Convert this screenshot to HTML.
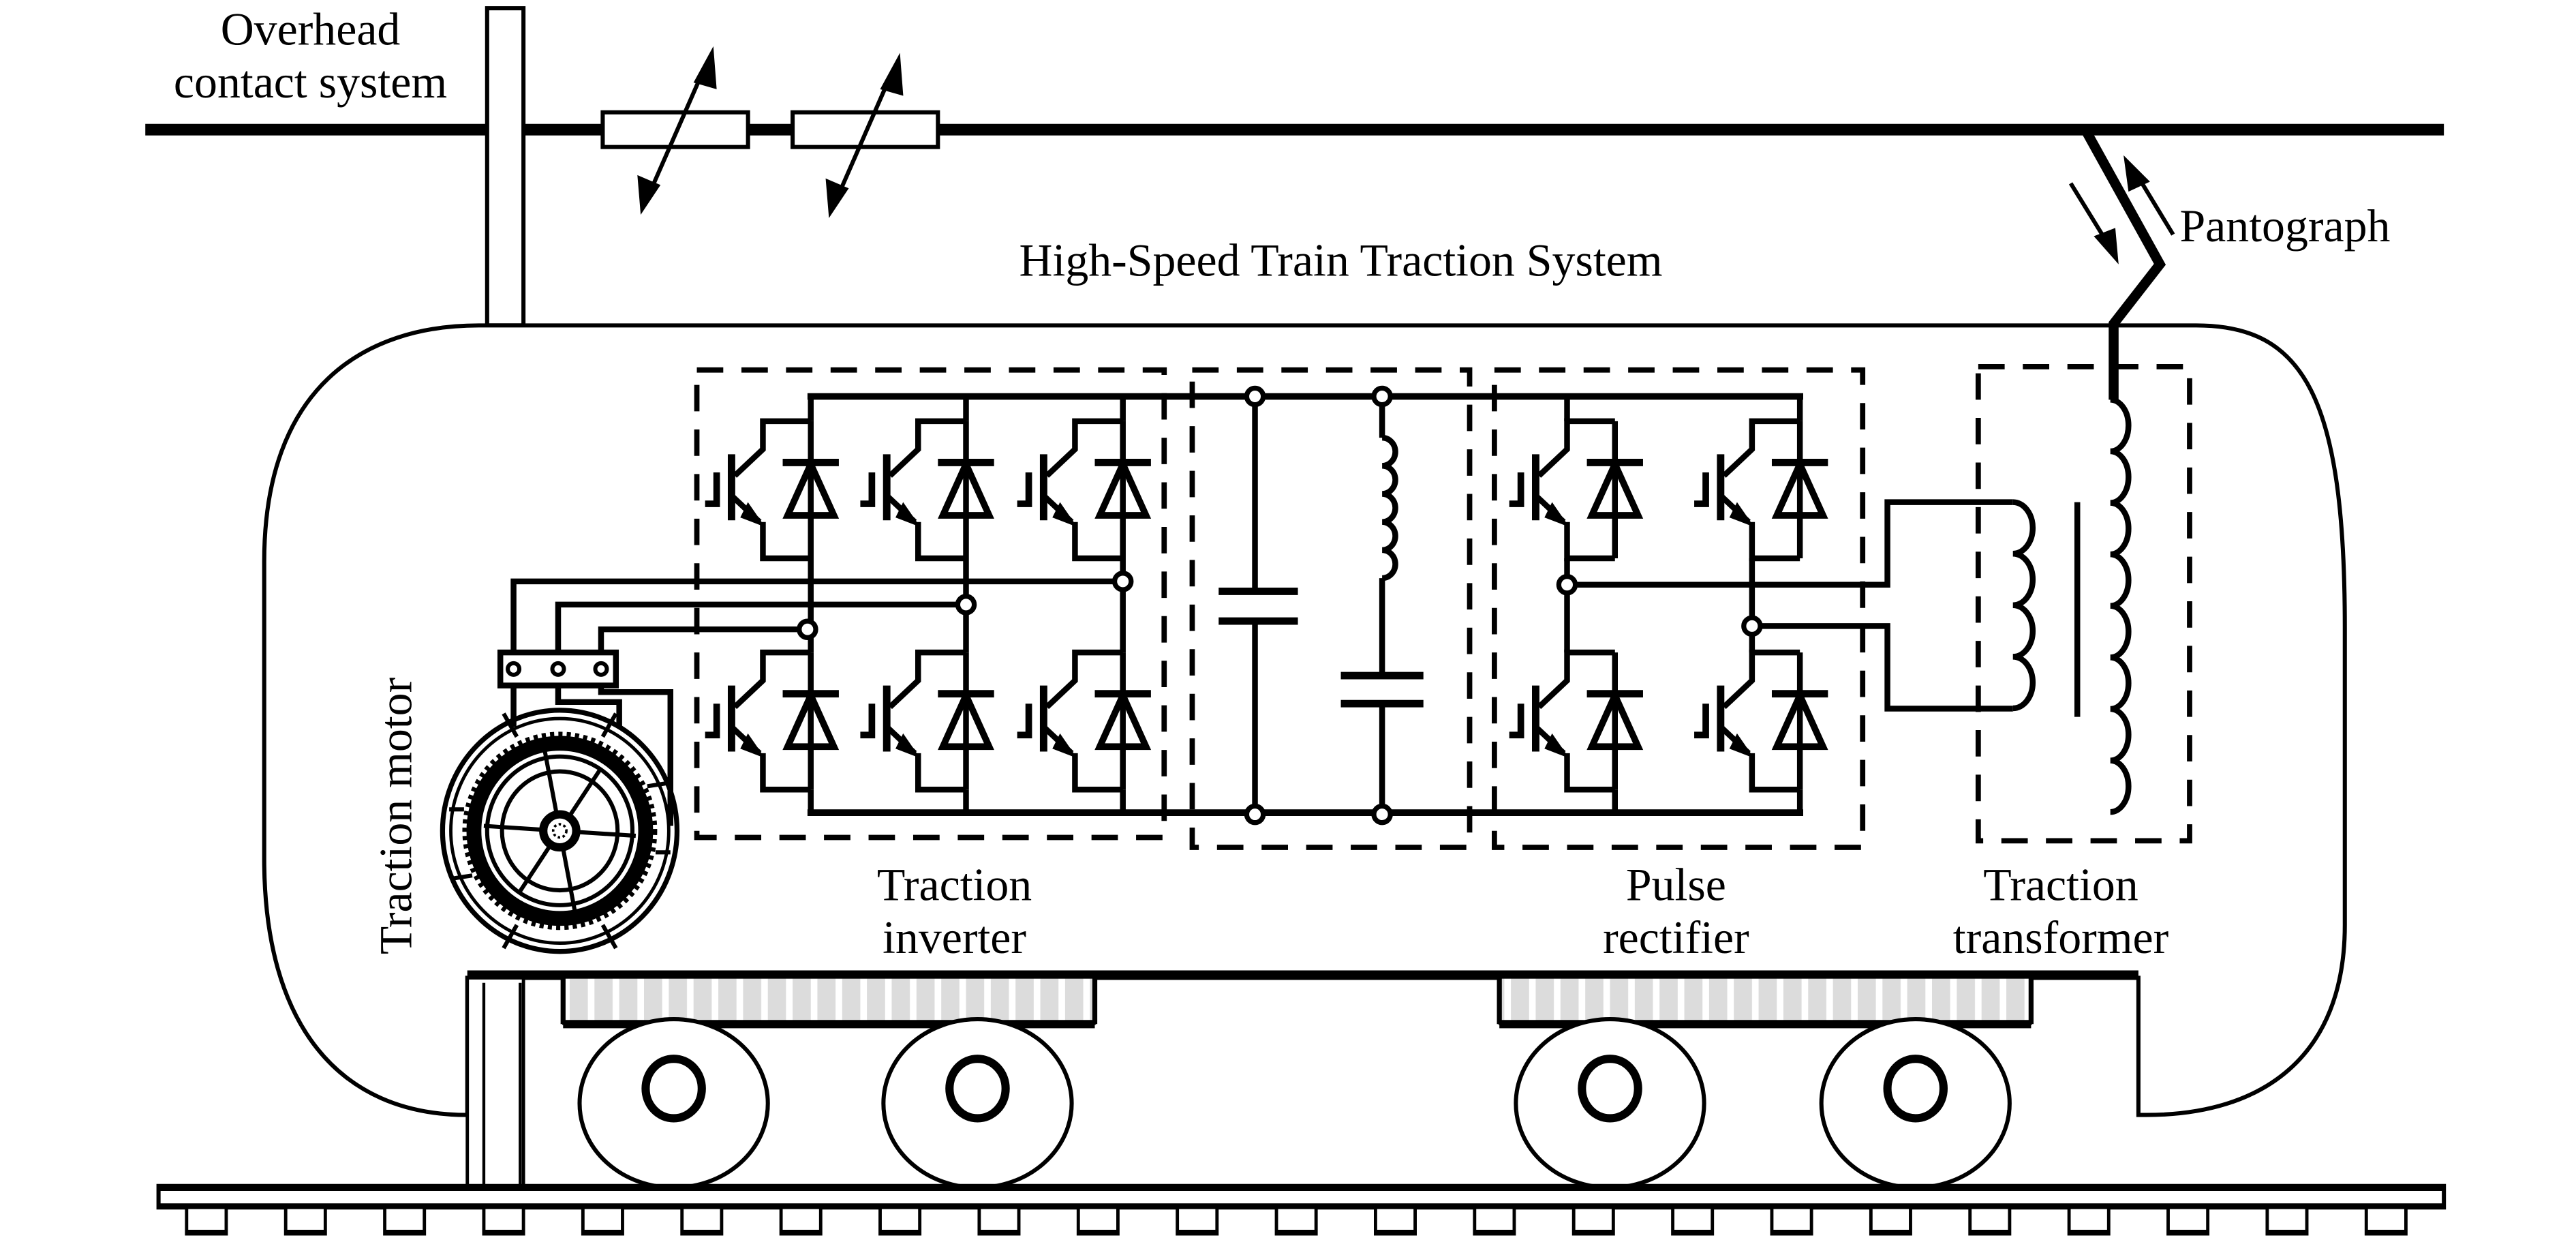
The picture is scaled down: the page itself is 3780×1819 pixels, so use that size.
<!DOCTYPE html>
<html><head><meta charset="utf-8">
<style>
html,body{margin:0;padding:0;background:#fff;}
svg{display:block;}
text{font-family:"Liberation Serif",serif;fill:#000;}
</style></head>
<body>
<svg width="3780" height="1819" viewBox="0 0 1560 750.7" preserveAspectRatio="none" xmlns="http://www.w3.org/2000/svg">
<defs>
<g id="cell" fill="none" stroke="#000" stroke-width="3.5">
  <path d="M0,0 H-29 V17 L-46,33"/>
  <path d="M-48,20 V60" stroke-width="4.5"/>
  <path d="M-57,31 V50 H-64" stroke-width="4"/>
  <path d="M-48,45 L-31,61 M-29,61 V83 H0"/>
  <polygon points="-29,63 -38,50 -42,58" fill="#000" stroke-width="1"/>
  <path d="M-17,25 H17" stroke-width="4.5"/>
  <path d="M0,26 L-14,57 H14 Z" stroke-width="4"/>
  <path d="M0,0 V83"/>
</g>
<pattern id="stripes" width="15" height="10" patternUnits="userSpaceOnUse">
  <rect width="15" height="10" fill="#dcdcdc"/>
  <rect x="11" width="4" height="10" fill="#fff"/>
</pattern>
</defs>

<rect x="88" y="75" width="1392" height="7" fill="#000"/>
<rect x="365" y="68" width="88" height="21" fill="#fff" stroke="#000" stroke-width="2.5"/>
<rect x="480" y="68" width="88" height="21" fill="#fff" stroke="#000" stroke-width="2.5"/>
<g stroke="#000" stroke-width="2.5">
<line x1="392" y1="120" x2="428" y2="38"/>
<line x1="506" y1="122" x2="541" y2="42"/>
</g>
<g fill="#000">
<polygon points="432,28 420,50 434,54"/>
<polygon points="388,130 386,106 400,112"/>
<polygon points="545,32 533,54 547,58"/>
<polygon points="502,132 500,108 514,114"/>
</g>
<rect x="295" y="5" width="22" height="192" fill="#fff" stroke="#000" stroke-width="2.5"/>

<path d="M290,197 L1330,197 C1395,197 1420,240 1420,380 L1420,560 C1420,640 1370,675 1300,675 L1295,675 L1295,592 L283,592 L283,675 C205,675 160,620 160,520 L160,340 C160,235 220,197 290,197 Z" fill="#fff" stroke="#000" stroke-width="2.5"/>
<rect x="283" y="592" width="34" height="128" fill="#fff" stroke="#000" stroke-width="2"/>
<line x1="293" y1="595" x2="293" y2="720" stroke="#000" stroke-width="1.8"/>
<line x1="315" y1="595" x2="315" y2="720" stroke="#000" stroke-width="1.8"/>
<line x1="283" y1="590" x2="1295" y2="590" stroke="#000" stroke-width="5"/>

<rect x="341" y="592" width="322" height="28" fill="url(#stripes)" stroke="#000" stroke-width="1"/>
<line x1="341" y1="620" x2="663" y2="620" stroke="#000" stroke-width="5"/>
<line x1="341" y1="592" x2="341" y2="620" stroke="#000" stroke-width="3"/>
<line x1="663" y1="592" x2="663" y2="620" stroke="#000" stroke-width="3"/>
<rect x="908" y="592" width="322" height="28" fill="url(#stripes)" stroke="#000" stroke-width="1"/>
<line x1="908" y1="620" x2="1230" y2="620" stroke="#000" stroke-width="5"/>
<line x1="908" y1="592" x2="908" y2="620" stroke="#000" stroke-width="3"/>
<line x1="1230" y1="592" x2="1230" y2="620" stroke="#000" stroke-width="3"/>

<g fill="#fff" stroke="#000">
<ellipse cx="408" cy="668" rx="57" ry="51" stroke-width="2.5"/>
<ellipse cx="592" cy="668" rx="57" ry="51" stroke-width="2.5"/>
<ellipse cx="975" cy="668" rx="57" ry="51" stroke-width="2.5"/>
<ellipse cx="1160" cy="668" rx="57" ry="51" stroke-width="2.5"/>
<ellipse cx="408" cy="659" rx="17" ry="18" stroke-width="5"/>
<ellipse cx="592" cy="659" rx="17" ry="18" stroke-width="5"/>
<ellipse cx="975" cy="659" rx="17" ry="18" stroke-width="5"/>
<ellipse cx="1160" cy="659" rx="17" ry="18" stroke-width="5"/>
</g>

<rect x="96" y="718" width="1384" height="13" fill="#fff" stroke="#000" stroke-width="2.5"/>
<line x1="96" y1="719" x2="1480" y2="719" stroke="#000" stroke-width="4"/>
<line x1="96" y1="730" x2="1480" y2="730" stroke="#000" stroke-width="3"/>
<g fill="#fff" stroke="#000" stroke-width="2">
<rect x="113" y="731" width="24" height="16"/><rect x="173" y="731" width="24" height="16"/><rect x="233" y="731" width="24" height="16"/><rect x="293" y="731" width="24" height="16"/><rect x="353" y="731" width="24" height="16"/><rect x="413" y="731" width="24" height="16"/><rect x="473" y="731" width="24" height="16"/><rect x="533" y="731" width="24" height="16"/><rect x="593" y="731" width="24" height="16"/><rect x="653" y="731" width="24" height="16"/><rect x="713" y="731" width="24" height="16"/><rect x="773" y="731" width="24" height="16"/><rect x="833" y="731" width="24" height="16"/><rect x="893" y="731" width="24" height="16"/><rect x="953" y="731" width="24" height="16"/><rect x="1013" y="731" width="24" height="16"/><rect x="1073" y="731" width="24" height="16"/><rect x="1133" y="731" width="24" height="16"/><rect x="1193" y="731" width="24" height="16"/><rect x="1253" y="731" width="24" height="16"/><rect x="1313" y="731" width="24" height="16"/><rect x="1373" y="731" width="24" height="16"/><rect x="1433" y="731" width="24" height="16"/>
</g>
<line x1="113" y1="746" x2="1457" y2="746" stroke="#000" stroke-width="3" stroke-dasharray="24 36"/>

<polyline points="1262,77 1308,160 1280,196 1280,242" fill="none" stroke="#000" stroke-width="6" stroke-linejoin="miter"/>
<line x1="1254" y1="111" x2="1278" y2="150" stroke="#000" stroke-width="2.5"/>
<polygon points="1283,160 1268,143 1281,138" fill="#000"/>
<line x1="1316" y1="142" x2="1293" y2="104" stroke="#000" stroke-width="2.5"/>
<polygon points="1286,94 1302,110 1289,116" fill="#000"/>

<g fill="none" stroke="#000" stroke-width="3.2" stroke-dasharray="16 11">
<rect x="422" y="224" width="283" height="283"/>
<rect x="722" y="224" width="168" height="289"/>
<rect x="905" y="224" width="223" height="289"/>
<rect x="1198" y="222" width="128" height="287"/>
</g>

<g stroke="#000" stroke-width="4" fill="none">
<line x1="489" y1="240" x2="1092" y2="240"/>
<line x1="489" y1="492" x2="1092" y2="492"/>
</g>

<g stroke="#000" stroke-width="3.5">
<line x1="491" y1="240" x2="491" y2="255"/><line x1="585" y1="240" x2="585" y2="255"/><line x1="680" y1="240" x2="680" y2="255"/>
<line x1="491" y1="338" x2="491" y2="395"/><line x1="585" y1="338" x2="585" y2="395"/><line x1="680" y1="338" x2="680" y2="395"/>
<line x1="491" y1="478" x2="491" y2="492"/><line x1="585" y1="478" x2="585" y2="492"/><line x1="680" y1="478" x2="680" y2="492"/>
</g>
<use href="#cell" x="491" y="255"/><use href="#cell" x="585" y="255"/><use href="#cell" x="680" y="255"/>
<use href="#cell" x="491" y="395"/><use href="#cell" x="585" y="395"/><use href="#cell" x="680" y="395"/>

<g stroke="#000" stroke-width="3.5">
<line x1="949" y1="240" x2="949" y2="255"/><line x1="1090" y1="240" x2="1090" y2="255"/>
<line x1="949" y1="338" x2="949" y2="395"/><line x1="1061" y1="338" x2="1061" y2="395"/>
<line x1="978" y1="478" x2="978" y2="492"/><line x1="1090" y1="478" x2="1090" y2="492"/>
</g>
<use href="#cell" x="978" y="255"/><use href="#cell" x="1090" y="255"/>
<use href="#cell" x="978" y="395"/><use href="#cell" x="1090" y="395"/>

<g stroke="#000" stroke-width="3.5" fill="none">
<line x1="760" y1="240" x2="760" y2="358"/>
<line x1="760" y1="376" x2="760" y2="492"/>
<line x1="738" y1="358" x2="786" y2="358" stroke-width="4.5"/>
<line x1="738" y1="376" x2="786" y2="376" stroke-width="4.5"/>
<line x1="837" y1="240" x2="837" y2="265"/>
<path d="M837,265 a8,8.5 0 0 1 0,17 a8,8.5 0 0 1 0,17 a8,8.5 0 0 1 0,17 a8,8.5 0 0 1 0,17 a8,8.5 0 0 1 0,17"/>
<line x1="837" y1="350" x2="837" y2="409"/>
<line x1="812" y1="409" x2="862" y2="409" stroke-width="4.5"/>
<line x1="812" y1="426" x2="862" y2="426" stroke-width="4.5"/>
<line x1="837" y1="426" x2="837" y2="492"/>
</g>

<g stroke="#000" stroke-width="3.5" fill="none">
<path d="M680,352 H311 V395"/>
<path d="M585,366 H338 V395"/>
<path d="M489,381 H364 V395"/>
<rect x="303" y="395" width="70" height="20"/>
<path d="M311,415 V440"/>
<path d="M338,415 V425 H375 V440"/>
<path d="M364,415 V419 H406 V500"/>
</g>
<g fill="#fff" stroke="#000" stroke-width="2.5">
<circle cx="311" cy="405" r="3.5"/><circle cx="338" cy="405" r="3.5"/><circle cx="364" cy="405" r="3.5"/>
</g>

<g fill="none" stroke="#000">
<ellipse cx="339" cy="503" rx="71" ry="73" stroke-width="3"/>
<ellipse cx="339" cy="503" rx="66" ry="68" stroke-width="2"/>
<ellipse cx="339" cy="503" rx="52" ry="53" stroke-width="9"/>
<ellipse cx="339" cy="503" rx="57" ry="58" stroke-width="4" stroke-dasharray="2.5 2.5"/>
<ellipse cx="339" cy="503" rx="44" ry="45" stroke-width="2.5"/>
<ellipse cx="339" cy="503" rx="35" ry="36" stroke-width="2.5"/>
<g stroke-width="2.5">
<line x1="330" y1="455" x2="348" y2="551"/>
<line x1="364" y1="465" x2="314" y2="541"/>
<line x1="293" y1="500" x2="385" y2="506"/>
<line x1="313" y1="446" x2="305" y2="432"/><line x1="365" y1="446" x2="373" y2="432"/>
<line x1="281" y1="490" x2="272" y2="490"/><line x1="397" y1="516" x2="406" y2="516"/>
<line x1="313" y1="560" x2="305" y2="574"/><line x1="365" y1="560" x2="373" y2="574"/>
<line x1="286" y1="530" x2="273" y2="532"/><line x1="392" y1="476" x2="405" y2="474"/>
</g>
<circle cx="339" cy="503" r="10" fill="#fff" stroke-width="5"/>
<circle cx="339" cy="503" r="4" stroke-width="1.5" stroke-dasharray="1.5 1.5"/>
</g>

<g stroke="#000" stroke-width="3.5" fill="none">
<path d="M949,354 H1143 V304 H1219"/>
<path d="M1061,379 H1143 V429 H1219"/>
<path d="M1219,304 a12,15.6 0 0 1 0,31.2 a12,15.6 0 0 1 0,31.2 a12,15.6 0 0 1 0,31.2 a12,15.6 0 0 1 0,31.2"/>
<line x1="1258" y1="304" x2="1258" y2="434"/>
<path d="M1278,242 a11,15.6 0 0 1 0,31.2 a11,15.6 0 0 1 0,31.2 a11,15.6 0 0 1 0,31.2 a11,15.6 0 0 1 0,31.2 a11,15.6 0 0 1 0,31.2 a11,15.6 0 0 1 0,31.2 a11,15.6 0 0 1 0,31.2 a11,15.6 0 0 1 0,31.2"/>
</g>

<g fill="#fff" stroke="#000" stroke-width="3">
<circle cx="680" cy="352" r="5"/><circle cx="585" cy="366" r="5"/><circle cx="489" cy="381" r="5"/>
<circle cx="760" cy="240" r="5"/><circle cx="837" cy="240" r="5"/>
<circle cx="760" cy="493" r="5"/><circle cx="837" cy="493" r="5"/>
<circle cx="949" cy="354" r="5"/><circle cx="1061" cy="379" r="5"/>
</g>

<g font-size="28">
<text x="188" y="27" text-anchor="middle">Overhead</text>
<text x="188" y="59" text-anchor="middle">contact system</text>
<text x="812" y="167" text-anchor="middle">High-Speed Train Traction System</text>
<text x="1320" y="146">Pantograph</text>
<text x="578" y="545" text-anchor="middle">Traction</text>
<text x="578" y="577" text-anchor="middle">inverter</text>
<text x="1015" y="545" text-anchor="middle">Pulse</text>
<text x="1015" y="577" text-anchor="middle">rectifier</text>
<text x="1248" y="545" text-anchor="middle">Traction</text>
<text x="1248" y="577" text-anchor="middle">transformer</text>
<text x="0" y="0" text-anchor="middle" transform="translate(249,494) rotate(-90)">Traction motor</text>
</g>
</svg>
</body></html>
